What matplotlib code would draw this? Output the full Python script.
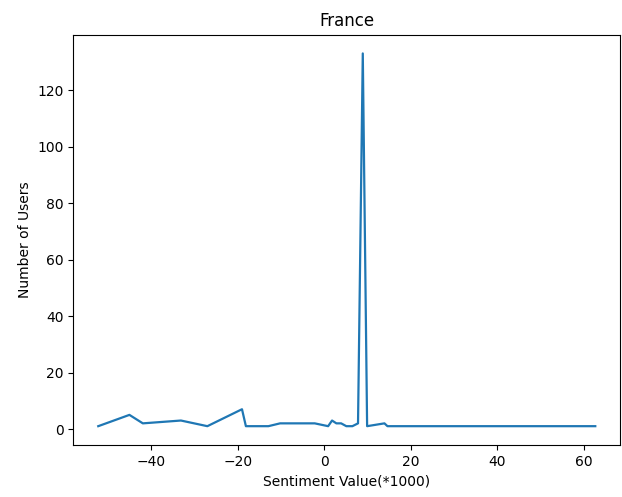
import matplotlib
matplotlib.use("Agg")
import matplotlib.pyplot as plt

# sentiment value (*1000) and number of users
sentiment = [-52.2, -45.0, -41.9, -33.1, -27.0, -19.0, -18.1, -12.9, -10.2, -2.2,
             0.9, 1.8, 2.8, 3.9, 5.1, 6.5, 7.8, 8.9, 9.9, 13.9, 14.6, 62.6]
users = [1, 5, 2, 3, 1, 7, 1, 1, 2, 2,
         1, 3, 2, 2, 1, 1, 2, 133, 1, 2, 1, 1]

fig, ax = plt.subplots(figsize=(6.22, 4.97), dpi=100)
fig.subplots_adjust(left=0.118, right=0.997, top=0.93, bottom=0.105)

ax.plot(sentiment, users, linewidth=1.6)
ax.set_title("France")
ax.set_xlabel("Sentiment Value(*1000)")
ax.set_ylabel("Number of Users")

fig.savefig("out.png")
